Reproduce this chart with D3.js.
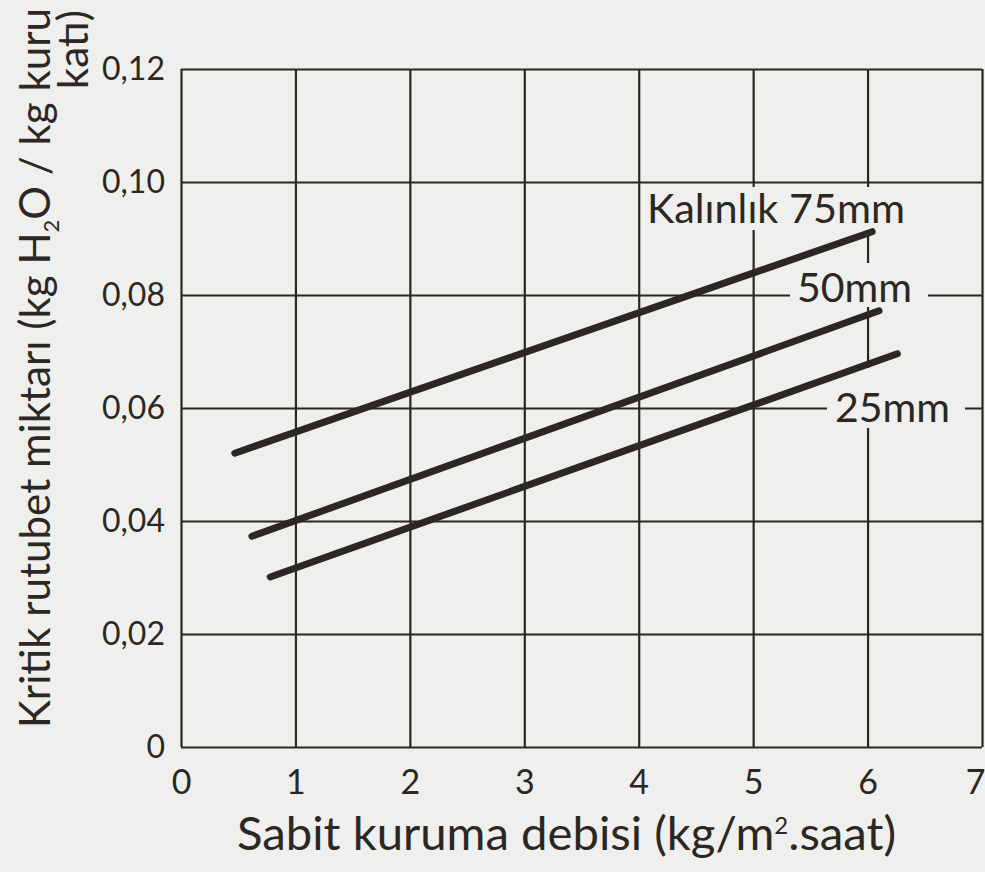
<!DOCTYPE html>
<html>
<head>
<meta charset="utf-8">
<script src="https://cdn.jsdelivr.net/npm/d3@7"></script>
<style>
  html, body { margin: 0; padding: 0; background: #efefed; }
  svg { display: block; }
  text { font-family: Lato, "Open Sans", sans-serif; fill: #2b2723; }
</style>
</head>
<body>
<svg id="chart" width="985" height="872"></svg>
<script>
// Critical moisture content vs. constant drying rate, for three slab thicknesses
const thicknessLabels = ["Kalınlık 75mm", "50mm", "25mm"];
const rateStart = [0.47, 0.62, 0.78];        // kg/m².saat
const rateEnd = [6.04, 6.10, 6.26];
const moistureStart = [0.0520, 0.0373, 0.0301]; // kg H2O / kg kuru katı
const moistureEnd = [0.0912, 0.0772, 0.0696];

const xTicks = [0, 1, 2, 3, 4, 5, 6, 7];
const yTicks = [0, 0.02, 0.04, 0.06, 0.08, 0.10, 0.12];

const ink = "#2b2723";
const paper = "#efefed";

const svg = d3.select("#chart");
const x = d3.scaleLinear().domain([0, 7]).range([181, 982]);
const y = d3.scaleLinear().domain([0, 0.12]).range([747, 69]);

// Fit a text element to a target width by scaling its font size
function fitWidth(sel, target) {
  const node = sel.node();
  const fs = parseFloat(sel.attr("font-size"));
  const w = node.getBBox().width;
  sel.attr("font-size", (fs * target / w).toFixed(2));
}

// Grid and frame
const grid = svg.append("g");
grid.append("g")
  .attr("transform", `translate(0,${y(0)})`)
  .call(d3.axisBottom(x).tickValues(xTicks).tickSize(-(y(0) - y(0.12))).tickPadding(23)
    .tickFormat(d3.format("d")))
  .call(g => g.select(".domain").remove())
  .call(g => g.selectAll("line").attr("stroke", ink).attr("stroke-width", 2.2))
  .call(g => g.selectAll("text").attr("font-size", 34).attr("fill", ink)
    .style("font-family", "Lato, sans-serif"))
  // the last label sits against the page edge
  .call(g => g.selectAll(".tick").filter(d => d === 7).select("text")
    .attr("text-anchor", "end").attr("x", 3));

grid.append("g")
  .attr("transform", `translate(${x(0)},0)`)
  .call(d3.axisLeft(y).tickValues(yTicks).tickSize(-(x(7) - x(0))).tickPadding(16)
    .tickFormat(d => d === 0 ? "0" : d3.format(".2f")(d).replace(".", ",")))
  .call(g => g.select(".domain").remove())
  .call(g => g.selectAll("line").attr("stroke", ink).attr("stroke-width", 2.2))
  .call(g => g.selectAll("text").attr("font-size", 32).attr("fill", ink)
    .style("font-family", "Lato, sans-serif"));

// Curve labels, each on a paper-coloured patch that interrupts the grid
const labelPos = [
  { x: 647, y: 223, w: 258, padL: 4, padR: 6, above: 36, below: 7 },
  { x: 797, y: 302, w: 115, padL: 7, padR: 16, above: 39, below: 5 },
  { x: 835, y: 422, w: 115, padL: 8, padR: 15, above: 54, below: 6 }
];
const labels = svg.append("g");
thicknessLabels.forEach((t, i) => {
  const p = labelPos[i];
  const g = labels.append("g");
  const rect = g.append("rect").attr("fill", paper);
  const txt = g.append("text")
    .attr("x", p.x).attr("y", p.y)
    .attr("font-size", 36)
    .text(t);
  fitWidth(txt, p.w);
  const b = txt.node().getBBox();
  rect.attr("x", b.x - p.padL).attr("y", p.y - p.above)
    .attr("width", b.width + p.padL + p.padR)
    .attr("height", p.above + p.below);
});

// Data lines
const series = thicknessLabels.map((t, i) => [
  [rateStart[i], moistureStart[i]],
  [rateEnd[i], moistureEnd[i]]
]);
const line = d3.line().x(d => x(d[0])).y(d => y(d[1]));
svg.append("g").selectAll("path").data(series).join("path")
  .attr("d", line)
  .attr("fill", "none")
  .attr("stroke", ink)
  .attr("stroke-width", 7)
  .attr("stroke-linecap", "round");

// Axis titles
const xt = svg.append("text")
  .attr("x", 237).attr("y", 850)
  .attr("font-size", 37);
xt.append("tspan").text("Sabit kuruma debisi (kg/m");
xt.append("tspan").attr("dy", -16).attr("font-size", 24).text("2");
xt.append("tspan").attr("dy", 16).text(".saat)");
fitWidth(xt, 663);

const yt1 = svg.append("text")
  .attr("transform", "translate(50,368) rotate(-90)")
  .attr("text-anchor", "middle")
  .attr("font-size", 37);
yt1.append("tspan").text("Kritik rutubet miktarı (kg H");
yt1.append("tspan").attr("dy", 9).attr("font-size", 22).text("2");
yt1.append("tspan").attr("dy", -9).text("O / kg kuru");
fitWidth(yt1, 722);

const yt2 = svg.append("text")
  .attr("transform", "translate(88,10) rotate(-90)")
  .attr("text-anchor", "end")
  .attr("font-size", parseFloat(yt1.attr("font-size")))
  .text("katı)");
</script>
</body>
</html>
